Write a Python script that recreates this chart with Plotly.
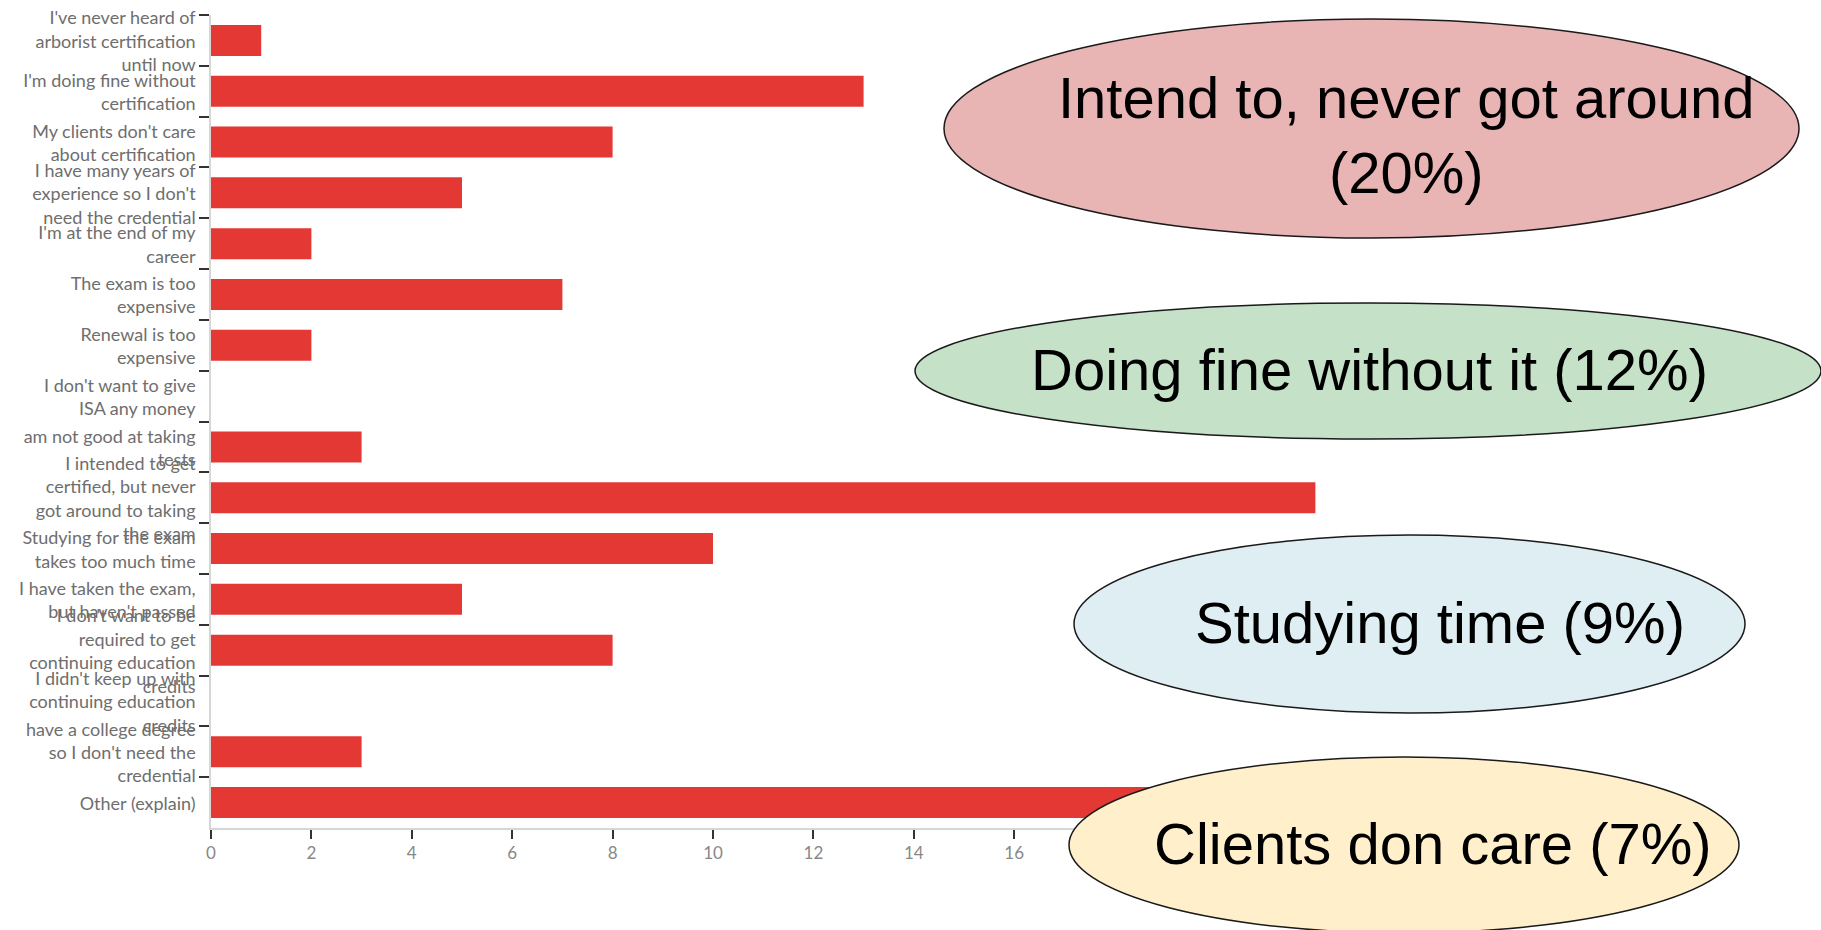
import plotly.graph_objects as go

# ---- data ----
categories = [
    "I've never heard of<br>arborist certification<br>until now",
    "I'm doing fine without<br>certification",
    "My clients don't care<br>about certification",
    "I have many years of<br>experience so I don't<br>need the credential",
    "I'm at the end of my<br>career",
    "The exam is too<br>expensive",
    "Renewal is too<br>expensive",
    "I don't want to give<br>ISA any money",
    "am not good at taking<br>tests",
    "I intended to get<br>certified, but never<br>got around to taking<br>the exam",
    "Studying for the exam<br>takes too much time",
    "I have taken the exam,<br>but haven't passed",
    "I don't want to be<br>required to get<br>continuing education<br>credits",
    "I didn't keep up with<br>continuing education<br>credits",
    "have a college degree<br>so I don't need the<br>credential",
    "Other (explain)",
]
counts = [1, 13, 8, 5, 2, 7, 2, 0, 3, 22, 10, 5, 8, 0, 3, 21]

x_ticks = list(range(0, 17, 2))

callout_texts = [
    "Intend to, never got around<br>(20%)",
    "Doing fine without it (12%)",
    "Studying time (9%)",
    "Clients don care (7%)",
]
callout_colors = ["#E8B4B4", "#C5E1C7", "#DEEEF3", "#FFEFCB"]

# ---- layout geometry (pixels) ----
W, H = 1821, 930
L, T = 211, 15
X_MAX = 30
PX_PER_UNIT = 50.2
R_EDGE = L + X_MAX * PX_PER_UNIT
B_EDGE = 828
PW, PH = R_EDGE - L, B_EDGE - T


def xp(px):
    return (px - L) / PW


def yp(py):
    return (B_EDGE - py) / PH


# ellipse boxes (left, top, right, bottom) and text centres
ellipse_boxes = [(944, 19, 1799, 238), (915, 303, 1821, 439),
                 (1074, 535, 1745, 713), (1069, 757, 1739, 933)]
text_centres = [(1406, 135), (1369, 369), (1440, 622), (1433, 843)]

fig = go.Figure()
fig.add_trace(go.Bar(
    x=counts, y=categories, orientation="h",
    marker=dict(color="#E43834", line=dict(width=0)),
    width=0.61, hoverinfo="x+y",
))

for (l, t, r, b), col in zip(ellipse_boxes, callout_colors):
    fig.add_shape(type="circle", xref="paper", yref="paper",
                  x0=xp(l), x1=xp(r), y0=yp(b), y1=yp(t),
                  fillcolor=col, line=dict(color="#1a1a1a", width=1.5),
                  layer="above")

for (cx, cy), txt in zip(text_centres, callout_texts):
    fig.add_annotation(text=txt, xref="paper", yref="paper",
                       x=xp(cx), y=yp(cy), xanchor="center", yanchor="middle",
                       showarrow=False, align="center",
                       font=dict(family="Liberation Sans, Arial, sans-serif",
                                 size=58, color="#000000"))

fig.update_layout(
    width=W, height=H,
    margin=dict(l=L, r=W - R_EDGE, t=T, b=H - B_EDGE, pad=0, autoexpand=False),
    paper_bgcolor="white", plot_bgcolor="white",
    showlegend=False, bargap=0.39,
)
fig.update_xaxes(
    range=[0, X_MAX], tickmode="array", tickvals=x_ticks, automargin=False,
    showgrid=False, zeroline=False,
    showline=True, linecolor="#D6D6D6", linewidth=1.5,
    ticks="outside", ticklen=9, tickcolor="#333333", tickwidth=1.5,
    tickfont=dict(family="Lato, sans-serif", size=17, color="#888888"),
)
fig.update_yaxes(
    autorange="reversed", type="category", automargin=False,
    tickmode="linear", dtick=1, tickson="boundaries",
    showgrid=False, zeroline=False,
    showline=True, linecolor="#D6D6D6", linewidth=1.5,
    ticks="outside", ticklen=10, tickcolor="#333333", tickwidth=1.5,
    ticklabelstandoff=10, ticklabelshift=-1,
    tickfont=dict(family="Lato, sans-serif", size=18, color="#6E6E6E"),
)

fig.write_html("out.html")
